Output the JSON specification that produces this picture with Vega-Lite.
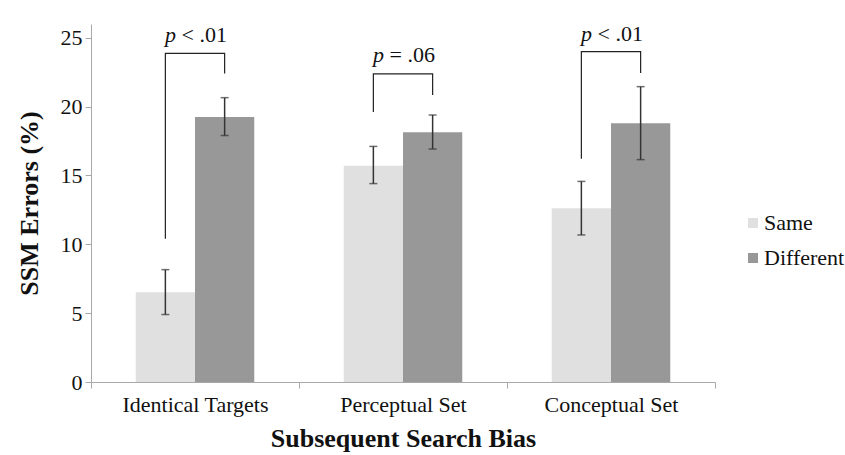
{
  "$schema": "https://vega.github.io/schema/vega-lite/v6.json",
  "width": 624,
  "height": 358,
  "autosize": {"type": "none"},
  "padding": {"left": 91, "top": 24, "right": 130, "bottom": 73},
  "background": "white",
  "config": {
    "font": "Liberation Serif",
    "view": {"stroke": null},
    "axis": {"labelFont": "Liberation Serif", "titleFont": "Liberation Serif", "labelColor": "#111", "titleColor": "#111"},
    "legend": {"labelFont": "Liberation Serif", "padding": 0}
  },
  "datasets": {
    "bars": [
      {"bias": "Identical Targets", "cond": "Same", "value": 6.52, "lo": 4.90, "hi": 8.16},
      {"bias": "Identical Targets", "cond": "Different", "value": 19.25, "lo": 17.9, "hi": 20.65},
      {"bias": "Perceptual Set", "cond": "Same", "value": 15.71, "lo": 14.41, "hi": 17.11},
      {"bias": "Perceptual Set", "cond": "Different", "value": 18.13, "lo": 16.92, "hi": 19.39},
      {"bias": "Conceptual Set", "cond": "Same", "value": 12.61, "lo": 10.68, "hi": 14.57},
      {"bias": "Conceptual Set", "cond": "Different", "value": 18.79, "lo": 16.15, "hi": 21.45}
    ],
    "brackets": [
      {"bias": "Identical Targets", "cond": "Same", "y": 10.4, "ord": 1},
      {"bias": "Identical Targets", "cond": "Same", "y": 23.87, "ord": 2},
      {"bias": "Identical Targets", "cond": "Different", "y": 23.87, "ord": 3},
      {"bias": "Identical Targets", "cond": "Different", "y": 22.4, "ord": 4},
      {"bias": "Perceptual Set", "cond": "Same", "y": 19.6, "ord": 1},
      {"bias": "Perceptual Set", "cond": "Same", "y": 22.38, "ord": 2},
      {"bias": "Perceptual Set", "cond": "Different", "y": 22.38, "ord": 3},
      {"bias": "Perceptual Set", "cond": "Different", "y": 20.84, "ord": 4},
      {"bias": "Conceptual Set", "cond": "Same", "y": 16.22, "ord": 1},
      {"bias": "Conceptual Set", "cond": "Same", "y": 23.99, "ord": 2},
      {"bias": "Conceptual Set", "cond": "Different", "y": 23.99, "ord": 3},
      {"bias": "Conceptual Set", "cond": "Different", "y": 22.45, "ord": 4}
    ],
    "labels": [
      {"bias": "Identical Targets", "y": 24.66, "p": "p", "rest": "< .01"},
      {"bias": "Perceptual Set", "y": 23.22, "p": "p", "rest": "= .06"},
      {"bias": "Conceptual Set", "y": 24.73, "p": "p", "rest": "< .01"}
    ]
  },
  "encoding": {
    "x": {
      "field": "bias", "type": "nominal",
      "sort": ["Identical Targets", "Perceptual Set", "Conceptual Set"],
      "scale": {"paddingInner": 0, "paddingOuter": 0},
      "axis": {
        "title": "Subsequent Search Bias",
        "titleFont": "Liberation Serif", "labelFont": "Liberation Serif",
        "titleFontSize": 26, "titleFontWeight": "bold", "titlePadding": 10,
        "labelFontSize": 22, "labelAngle": 0, "labelPadding": 6,
        "tickBand": "extent", "tickSize": 6,
        "domainColor": "#a8a8a8", "tickColor": "#a8a8a8"
      }
    }
  },
  "layer": [
    {
      "data": {"name": "bars"},
      "mark": {"type": "bar"},
      "encoding": {
        "xOffset": {"field": "cond", "type": "nominal", "sort": ["Same", "Different"],
          "scale": {"paddingInner": 0, "paddingOuter": 0.755}},
        "y": {"field": "value", "type": "quantitative",
          "scale": {"domain": [0, 25]},
          "axis": {
            "title": "SSM Errors (%)", "titleFont": "Liberation Serif", "labelFont": "Liberation Serif",
            "titleFontSize": 26, "titleFontWeight": "bold", "titlePadding": 18,
            "values": [0, 5, 10, 15, 20, 25], "labelFontSize": 22, "labelPadding": 3,
            "grid": false, "tickSize": 6,
            "domainColor": "#a8a8a8", "tickColor": "#a8a8a8"
          }},
        "color": {"field": "cond", "type": "nominal", "sort": ["Same", "Different"],
          "scale": {"domain": ["Same", "Different"], "range": ["#e0e0e0", "#989898"]},
          "legend": {
            "title": null, "orient": "none", "legendX": 651, "legendY": 188, "padding": 0,
            "symbolType": "square", "symbolSize": 100, "symbolStrokeWidth": 0,
            "labelFontSize": 22, "labelFont": "Liberation Serif", "labelColor": "#111",
            "labelOffset": 0, "rowPadding": 13
          }}
      }
    },
    {
      "data": {"name": "bars"},
      "mark": {"type": "rule", "color": "#333", "strokeWidth": 1.5},
      "encoding": {
        "xOffset": {"field": "cond", "type": "nominal", "sort": ["Same", "Different"]},
        "y": {"field": "lo", "type": "quantitative"},
        "y2": {"field": "hi"}
      }
    },
    {
      "data": {"name": "bars"},
      "mark": {"type": "tick", "color": "#333", "size": 8, "thickness": 1.5, "orient": "horizontal"},
      "encoding": {
        "xOffset": {"field": "cond", "type": "nominal", "sort": ["Same", "Different"]},
        "y": {"field": "lo", "type": "quantitative"}
      }
    },
    {
      "data": {"name": "bars"},
      "mark": {"type": "tick", "color": "#333", "size": 8, "thickness": 1.5, "orient": "horizontal"},
      "encoding": {
        "xOffset": {"field": "cond", "type": "nominal", "sort": ["Same", "Different"]},
        "y": {"field": "hi", "type": "quantitative"}
      }
    },
    {
      "data": {"name": "brackets"},
      "mark": {"type": "line", "color": "#222", "strokeWidth": 1.2},
      "encoding": {
        "xOffset": {"field": "cond", "type": "nominal", "sort": ["Same", "Different"]},
        "y": {"field": "y", "type": "quantitative"},
        "detail": {"field": "bias"},
        "order": {"field": "ord", "type": "quantitative"}
      }
    },
    {
      "data": {"name": "labels"},
      "mark": {"type": "text", "font": "Liberation Serif", "fontStyle": "italic", "fontSize": 22, "align": "right", "baseline": "alphabetic", "dx": -19, "color": "#111"},
      "encoding": {
        "y": {"field": "y", "type": "quantitative"},
        "text": {"field": "p"}
      }
    },
    {
      "data": {"name": "labels"},
      "mark": {"type": "text", "font": "Liberation Serif", "fontSize": 22, "align": "left", "baseline": "alphabetic", "dx": -13.5, "color": "#111"},
      "encoding": {
        "y": {"field": "y", "type": "quantitative"},
        "text": {"field": "rest"}
      }
    }
  ]
}
